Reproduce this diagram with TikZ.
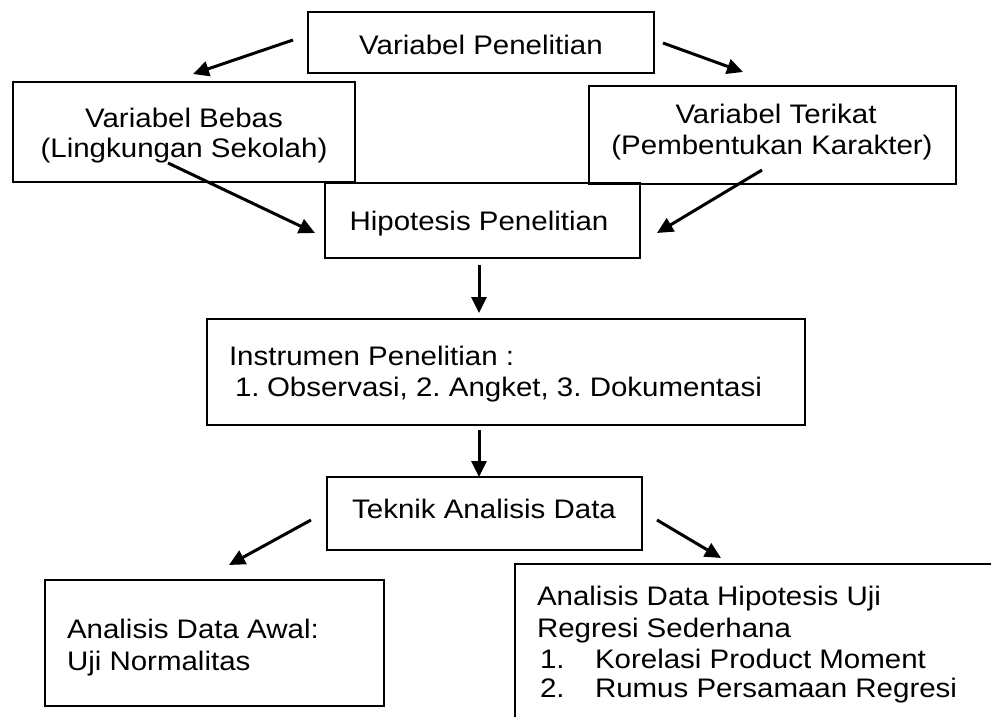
\documentclass[tikz,border=0pt]{standalone}
\usepackage{fontspec}
\setmainfont{Liberation Sans}[FakeStretch=1.1]
\usetikzlibrary{arrows.meta,calc}
\frenchspacing
\begin{document}
\begin{tikzpicture}[x=1pt,y=-1pt,
  boxst/.style={draw, line width=2pt, inner sep=0pt, outer sep=0pt},
  txt/.style={inner sep=0pt, outer sep=0pt, font=\fontsize{26.8pt}{30.5pt}\selectfont},
  arr/.style={line width=3pt, -{Triangle[length=16pt,width=15pt]}}]
\useasboundingbox (0,0) rectangle (991,717);
\fill[white] (0,0) rectangle (991,717);
\clip (0,0) rectangle (991,717);
% boxes
\node[boxst, minimum width=346pt, minimum height=61pt] (vp) at (481,42.5) {};
\node[boxst, minimum width=342pt, minimum height=100pt] (bebas) at (184,132) {};
\node[boxst, minimum width=367pt, minimum height=98pt] (terikat) at (772.5,135) {};
\node[boxst, minimum width=315pt, minimum height=75pt] (hip) at (482.5,220.5) {};
\node[boxst, minimum width=598pt, minimum height=106pt] (instr) at (506,372) {};
\node[boxst, minimum width=315pt, minimum height=73pt] (tek) at (484.5,513.5) {};
\node[boxst, minimum width=339pt, minimum height=126pt] (awal) at (214.5,643) {};
\node[boxst, minimum width=585pt, minimum height=236pt] (hipo) at (807.5,682) {};
% texts
\node[txt, anchor=base] (vpt) at (481,55) {Variabel Penelitian};
\node[txt, anchor=base] (bebt1) at (184,127) {Variabel Bebas};
\node[txt, anchor=base] (bebt2) at (184,157) {(Lingkungan Sekolah)};
\node[txt, anchor=base] (tert1) at (776,123) {Variabel Terikat};
\node[txt, anchor=base] (tert2) at (772,154) {(Pembentukan Karakter)};
\node[txt, anchor=base] (hipt) at (479,230) {Hipotesis Penelitian};
\node[txt, anchor=base west] (inst1) at (229,365) {Instrumen Penelitian :};
\node[txt, anchor=base west] (inst2a) at (235,396) {1.};
\node[txt, anchor=base west] (inst2b) at (267,396) {Observasi, 2. Angket, 3. Dokumentasi};
\node[txt, anchor=base] (tekt) at (484,518) {Teknik Analisis Data};
\node[txt, anchor=base west] (awt1) at (67,638) {Analisis Data Awal:};
\node[txt, anchor=base west] (awt2) at (67,670) {Uji Normalitas};
\node[txt, anchor=base west] (hpt1) at (537,605) {Analisis Data Hipotesis Uji};
\node[txt, anchor=base west] (hpt2) at (537,637) {Regresi Sederhana};
\node[txt, anchor=base west] (hpt3a) at (540,668) {1.};
\node[txt, anchor=base west] (hpt3b) at (595,668) {Korelasi Product Moment};
\node[txt, anchor=base west] (hpt4a) at (540,697) {2.};
\node[txt, anchor=base west] (hpt4b) at (595,697) {Rumus Persamaan Regresi};
% connectors
\draw[arr] ($(vp.west)+(-15,-2.5)$) -- ($(bebas.north)+(9,-8)$);
\draw[arr] ($(vp.east)+(9,0.5)$) -- ($(terikat.north)+(-29.5,-14)$);
\draw[arr] ($(bebas.center)+(-16,31)$) -- ($(hip.west)+(-10,12.5)$);
\draw[arr] ($(terikat.center)+(-10.5,35)$) -- ($(hip.east)+(17,12.5)$);
\draw[arr] ($(hip.south)+(-3.5,7)$) -- ($(instr.north)+(-27,-6)$);
\draw[arr] ($(instr.south)+(-27,5)$) -- ($(tek.north)+(-5.5,0)$);
\draw[arr] ($(tek.west)+(-16,6.5)$) -- ($(awal.north)+(14.5,-15)$);
\draw[arr] ($(tek.east)+(15,6.5)$) -- ($(hipo.north west)+(206,-6)$);
\end{tikzpicture}
\end{document}
